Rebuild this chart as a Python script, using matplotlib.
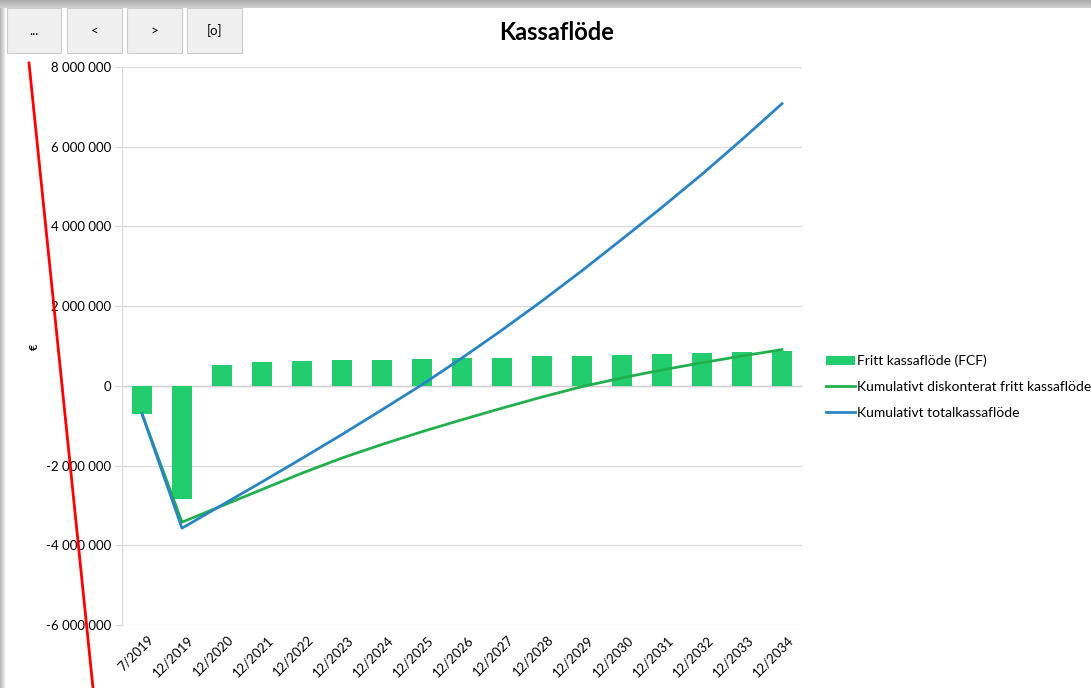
import numpy as np
import matplotlib.pyplot as plt
import matplotlib.transforms as mtransforms
from matplotlib.patches import Rectangle
from matplotlib.lines import Line2D
from matplotlib.ticker import FuncFormatter

plt.rcParams['font.family'] = ['Lato', 'DejaVu Sans']

W, H = 1091, 688

categories = ['7/2019', '12/2019', '12/2020', '12/2021', '12/2022', '12/2023',
              '12/2024', '12/2025', '12/2026', '12/2027', '12/2028', '12/2029',
              '12/2030', '12/2031', '12/2032', '12/2033', '12/2034']

# Fritt kassaflöde (FCF)
fcf = [-700000, -2840000, 530000, 600000, 620000, 640000, 650000, 680000,
       690000, 710000, 740000, 760000, 780000, 800000, 820000, 850000, 880000]

# Kumulativt diskonterat fritt kassaflöde
cum_disc = [-700000, -3420000, -3010000, -2600000, -2190000, -1810000,
            -1470000, -1150000, -850000, -560000, -280000, -20000, 200000,
            400000, 580000, 750000, 910000]

# Kumulativt totalkassaflöde
cum_total = [-700000, -3570000, -2990000, -2410000, -1820000, -1220000,
             -600000, 30000, 700000, 1400000, 2130000, 2890000, 3680000,
             4480000, 5310000, 6180000, 7080000]

yticks = [-6000000, -4000000, -2000000, 0, 2000000, 4000000, 6000000, 8000000]

fig = plt.figure(figsize=(W / 100, H / 100), dpi=100)

# window frame shadow
bg = np.ones((H, W, 3))
for i in range(8):
    bg[i, :, :] = (172 + i * 5) / 255
for j in range(5):
    bg[8:, j, :] = (185 + j * 12) / 255
fig.figimage(bg, xo=0, yo=0, origin='upper', zorder=-5)

ax = fig.add_axes([122 / W, 1 - 625 / H, 680 / W, 558 / H], zorder=1)
ax.set_facecolor('white')
x = np.arange(len(categories))
bars = ax.bar(x, fcf, width=0.5, color='#21cd6c', zorder=2)
l1, = ax.plot(x, cum_disc, color='#22b04e', lw=2, zorder=3)
l2, = ax.plot(x, cum_total, color='#2a84c4', lw=2, zorder=4)

ax.set_xlim(-0.5, len(categories) - 0.5)
ax.set_ylim(-6000000, 8000000)
ax.set_yticks(yticks)
ax.yaxis.set_major_formatter(FuncFormatter(lambda v, p: f'{v:,.0f}'.replace(',', ' ')))
ax.yaxis.grid(True, color='#d9d9d9', lw=0.9, zorder=0)
ax.set_axisbelow(True)
ax.axhline(0, color='#d0d0d0', lw=1.0, zorder=1)
for s in ['top', 'right', 'bottom']:
    ax.spines[s].set_visible(False)
ax.spines['left'].set_color('#d9d9d9')
ax.tick_params(axis='y', length=5, color='#d9d9d9', labelsize=9.5, pad=3)
ax.tick_params(axis='x', length=0, labelsize=9.5, pad=6)
ax.set_xticks(x)
ax.set_xticklabels(categories, rotation=45, ha='right', rotation_mode='anchor')
shift = mtransforms.ScaledTranslation(5 / 100, 0, fig.dpi_scale_trans)
for lab in ax.get_xticklabels():
    lab.set_transform(lab.get_transform() + shift)

ax.legend([bars, l1, l2],
          ['Fritt kassaflöde (FCF)', 'Kumulativt diskonterat fritt kassaflöde',
           'Kumulativt totalkassaflöde'],
          loc='center left', bbox_to_anchor=(826 / W, 1 - 387 / H),
          bbox_transform=fig.transFigure, frameon=False, fontsize=10,
          borderpad=0, borderaxespad=0, handlelength=2.1, handletextpad=0.1,
          labelspacing=1.0)

fig.text(557 / W, 1 - 33 / H, 'Kassaflöde', ha='center', va='center',
         fontsize=17, fontweight='bold')
fig.text(34 / W, 1 - 347 / H, '€', rotation=90, ha='center', va='center',
         fontsize=8, fontweight='bold')

# toolbar buttons
buttons = [(7, 61, '...'), (67, 122, '<'), (127, 182, '>'), (187, 242, '[o]')]
for x0, x1, lab in buttons:
    fig.add_artist(Rectangle((x0 / W, 1 - 53 / H), (x1 - x0) / W, 45 / H,
                             transform=fig.transFigure, facecolor='#f0f0f0',
                             edgecolor='#cccccc', lw=0.8, zorder=3))
    fig.text((x0 + x1) / 2 / W, 1 - 31 / H, lab, ha='center', va='center',
             fontsize=9.5, zorder=4)

fig.add_artist(Line2D([29 / W, 93 / W], [1 - 63 / H, 0], color='red', lw=2,
                      transform=fig.transFigure, zorder=6))

fig.savefig('out.png', dpi=100)
